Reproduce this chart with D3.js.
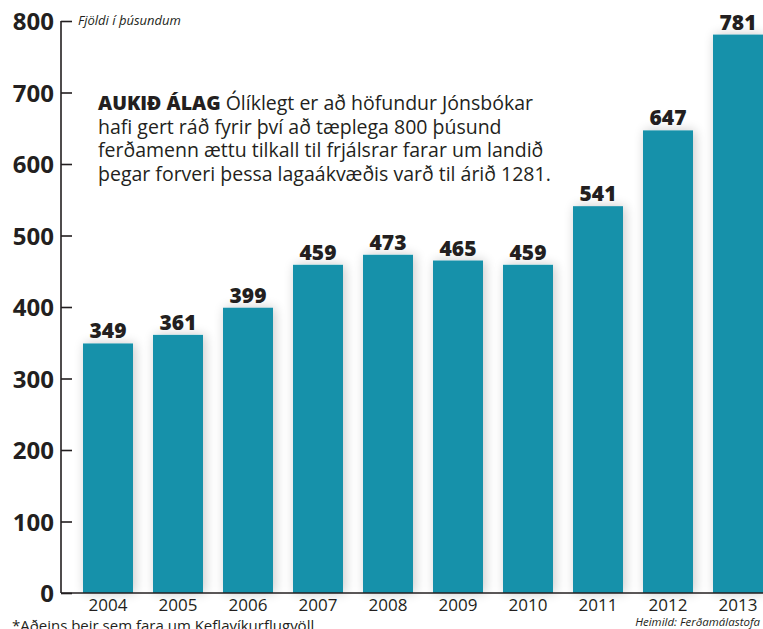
<!DOCTYPE html>
<meta charset="utf-8">
<style>
  body { margin: 0; background: #fff; }
  text { font-family: "Open Sans", "DejaVu Sans", sans-serif; fill: #231f20; }
</style>
<svg id="chart" width="763" height="629"></svg>
<script src="https://d3js.org/d3.v7.min.js"></script>
<script>
// data
const years = ["2004", "2005", "2006", "2007", "2008", "2009", "2010", "2011", "2012", "2013"];
const visitors = [349, 361, 399, 459, 473, 465, 459, 541, 647, 781];
const yTicks = [0, 100, 200, 300, 400, 500, 600, 700, 800];
const noteLines = [
  "Ólíklegt er að höfundur Jónsbókar",
  "hafi gert ráð fyrir því að tæplega 800 þúsund",
  "ferðamenn ættu tilkall til frjálsrar farar um landið",
  "þegar forveri þessa lagaákvæðis varð til árið 1281."
];

const width = 763, height = 629;
const barColor = "#1791aa";

const svg = d3.select("#chart");

const x = d3.scaleBand()
  .domain(years)
  .range([73, 773])
  .paddingInner(2 / 7)
  .paddingOuter(1 / 7);

const y = d3.scaleLinear()
  .domain([0, 800])
  .range([593, 21]);

// soft shadow behind the bars
const defs = svg.append("defs");
const f = defs.append("filter").attr("id", "shade")
  .attr("x", "-40%").attr("y", "-10%").attr("width", "180%").attr("height", "120%");
f.append("feGaussianBlur").attr("in", "SourceAlpha").attr("stdDeviation", 6).attr("result", "b");
f.append("feOffset").attr("in", "b").attr("dx", 2).attr("dy", 0).attr("result", "o");
f.append("feComponentTransfer").attr("in", "o").attr("result", "s")
  .append("feFuncA").attr("type", "linear").attr("slope", 0.22);
const m = f.append("feMerge");
m.append("feMergeNode").attr("in", "s");
m.append("feMergeNode").attr("in", "SourceGraphic");

// bars
svg.append("g")
  .selectAll("rect")
  .data(visitors)
  .join("rect")
    .attr("x", (d, i) => x(years[i]))
    .attr("y", d => y(d))
    .attr("width", x.bandwidth())
    .attr("height", d => y(0) - y(d))
    .attr("fill", barColor)
    .attr("filter", "url(#shade)");

// value labels
svg.append("g")
  .selectAll("text")
  .data(visitors)
  .join("text")
    .attr("x", (d, i) => x(years[i]) + x.bandwidth() / 2)
    .attr("y", d => y(d) - 5)
    .attr("text-anchor", "middle")
    .style("font-size", "21px")
    .style("font-weight", 800)
    .text(d => d);

// y axis
const yAxis = svg.append("g")
  .attr("transform", "translate(61,0)")
  .call(d3.axisRight(y).tickValues(yTicks).tickSize(11).tickFormat(""));
yAxis.select(".domain").attr("d", "M0," + y(800) + "V" + y(0));
yAxis.selectAll("line").attr("stroke", "#231f20").attr("stroke-width", 1.6);
yAxis.select(".domain").attr("stroke", "#231f20").attr("stroke-width", 1.6);

svg.append("g")
  .selectAll("text")
  .data(yTicks)
  .join("text")
    .attr("x", 54)
    .attr("y", d => y(d) + 9)
    .attr("text-anchor", "end")
    .style("font-size", "24px")
    .style("font-weight", 700)
    .text(d => d);

// x axis
svg.append("line")
  .attr("x1", 61).attr("x2", width)
  .attr("y1", y(0)).attr("y2", y(0))
  .attr("stroke", "#231f20").attr("stroke-width", 1.6);

svg.append("g")
  .selectAll("text")
  .data(years)
  .join("text")
    .attr("x", d => x(d) + x.bandwidth() / 2)
    .attr("y", 611)
    .attr("text-anchor", "middle")
    .style("font-size", "17px")
    .text(d => d);

// unit label
svg.append("text")
  .attr("x", 78).attr("y", 25)
  .style("font-size", "13px")
  .style("font-style", "italic")
  .text("Fjöldi í þúsundum");

// annotation
const note = svg.append("text")
  .attr("x", 98).attr("y", 110)
  .style("font-size", "19.5px");
note.append("tspan")
  .style("font-weight", 800)
  .text("AUKIÐ ÁLAG ");
note.append("tspan").text(noteLines[0]);
noteLines.slice(1).forEach((t, i) => {
  svg.append("text")
    .attr("x", 98).attr("y", 133.5 + i * 23.5)
    .style("font-size", "19.5px")
    .text(t);
});

// footnotes
svg.append("text")
  .attr("x", 12).attr("y", 631)
  .style("font-size", "15px")
  .text("*Aðeins þeir sem fara um Keflavíkurflugvöll");

svg.append("text")
  .attr("x", 760).attr("y", 626)
  .attr("text-anchor", "end")
  .style("font-size", "11.5px")
  .style("font-style", "italic")
  .text("Heimild: Ferðamálastofa");
</script>
